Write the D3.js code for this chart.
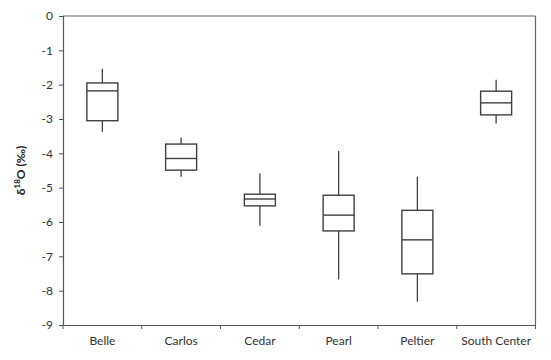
<!DOCTYPE html>
<html><head><meta charset="utf-8">
<script src="https://cdn.jsdelivr.net/npm/d3@7"></script>
<style>body{margin:0;background:#fff}text{font-family:Lato,"Open Sans",sans-serif}</style>
</head><body><svg id="c" width="551" height="360"></svg>
<script>
const categories = ["Belle","Carlos","Cedar","Pearl","Peltier","South Center"];
const whiskerMax = [-1.54,-3.54,-4.59,-3.93,-4.68,-1.86];
const q3 = [-1.95,-3.73,-5.19,-5.22,-5.66,-2.19];
const median = [-2.18,-4.15,-5.33,-5.80,-6.52,-2.53];
const q1 = [-3.05,-4.49,-5.53,-6.26,-7.51,-2.88];
const whiskerMin = [-3.37,-4.68,-6.11,-7.67,-8.32,-3.13];
const yTicks = [0,-1,-2,-3,-4,-5,-6,-7,-8,-9];

const svg = d3.select("#c");
const L=63, R=535.5, T=16, B=325;
const x = d3.scaleBand().domain(categories).range([L,R]).paddingInner(0).paddingOuter(0);
const y = d3.scaleLinear().domain([-9,0]).range([B,T]);
const col="#404040";

// frame top/right
svg.append("line").attr("x1",L).attr("x2",R).attr("y1",T).attr("y2",T).attr("stroke","#666").attr("stroke-width",1.2);
svg.append("line").attr("x1",R).attr("x2",R).attr("y1",T).attr("y2",B).attr("stroke","#666").attr("stroke-width",1.2);

const ya = svg.append("g").attr("transform",`translate(${L},0)`)
  .call(d3.axisLeft(y).tickValues(yTicks).tickFormat(d3.format("d")).tickSizeOuter(0).tickSize(4).tickPadding(6));
ya.select(".domain").attr("stroke","#555").attr("stroke-width",1.2);
ya.selectAll(".tick line").attr("stroke","#555");
ya.selectAll("text").attr("font-size",12).attr("fill","#333").text(d=>d===0?"0":"-"+Math.abs(d));

const xa = svg.append("g").attr("transform",`translate(0,${B})`)
  .call(d3.axisBottom(x).tickSize(0).tickPadding(11));
xa.select(".domain").attr("stroke","#555").attr("stroke-width",1.2);
xa.selectAll("text").attr("font-size",12).attr("fill","#333");
// boundary ticks
const bounds = categories.map(c=>x(c)).concat([R]);
svg.append("g").selectAll("line").data(bounds).join("line")
  .attr("x1",d=>d).attr("x2",d=>d).attr("y1",B).attr("y2",B+4).attr("stroke","#555");

const bw = 31;
const g = svg.append("g");
categories.forEach((c,i)=>{
  const cx = x(c)+x.bandwidth()/2;
  g.append("line").attr("x1",cx).attr("x2",cx).attr("y1",y(whiskerMax[i])).attr("y2",y(q3[i])).attr("stroke",col).attr("stroke-width",1.3);
  g.append("line").attr("x1",cx).attr("x2",cx).attr("y1",y(q1[i])).attr("y2",y(whiskerMin[i])).attr("stroke",col).attr("stroke-width",1.3);
  g.append("rect").attr("x",cx-bw/2).attr("width",bw).attr("y",y(q3[i])).attr("height",y(q1[i])-y(q3[i]))
    .attr("fill","none").attr("stroke",col).attr("stroke-width",1.4);
  g.append("line").attr("x1",cx-bw/2).attr("x2",cx+bw/2).attr("y1",y(median[i])).attr("y2",y(median[i])).attr("stroke",col).attr("stroke-width",1.4);
});

const lab = svg.append("text").attr("transform",`translate(25,${(T+B)/2}) rotate(-90)`)
  .attr("text-anchor","middle").attr("font-size",12).attr("font-weight","bold").attr("fill","#222");
lab.append("tspan").text("δ");
lab.append("tspan").attr("font-size",8).attr("dy",-5).text("18");
lab.append("tspan").attr("dy",5).text("O (‰)");
</script></body></html>
